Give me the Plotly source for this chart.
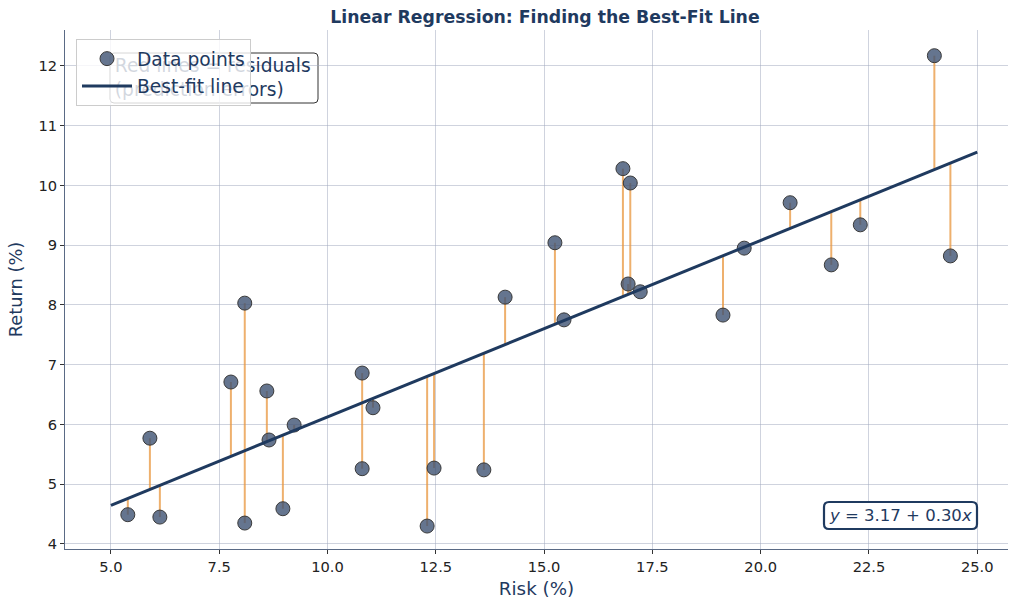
import plotly.graph_objects as go

risk = [5.39, 5.90, 6.13, 7.77, 8.09, 8.09, 8.60, 8.65, 8.97, 9.23,
        10.80, 10.80, 11.05, 12.30, 12.46, 13.61, 14.10, 15.25, 15.46, 16.82,
        16.99, 16.94, 17.22, 19.13, 19.62, 20.68, 21.63, 22.30, 24.01, 24.38]
ret = [4.49, 5.77, 4.45, 6.71, 8.03, 4.35, 6.56, 5.74, 4.59, 5.99,
       6.86, 5.26, 6.28, 4.30, 5.27, 5.24, 8.13, 9.04, 7.75, 10.28,
       10.04, 8.35, 8.22, 7.83, 8.95, 9.71, 8.67, 9.34, 12.17, 8.82]
intercept = 3.17
slope = 0.2955
line_x = [5.0, 25.0]
x_ticks = [5, 7.5, 10, 12.5, 15, 17.5, 20, 22.5, 25]
y_ticks = [4, 5, 6, 7, 8, 9, 10, 11, 12]

navy = "#1f3a5f"
font_family = "DejaVu Sans"

fig = go.Figure()

# residual lines
rx, ry = [], []
for xv, yv in zip(risk, ret):
    rx += [xv, xv, None]
    ry += [yv, intercept + slope * xv, None]
fig.add_trace(go.Scatter(x=rx, y=ry, mode="lines",
                         line=dict(color="rgba(232,150,60,0.75)", width=2),
                         showlegend=False, hoverinfo="skip"))

fig.add_trace(go.Scatter(x=risk, y=ret, mode="markers", name="Data points",
                         marker=dict(size=14, color="rgba(62,82,115,0.8)",
                                     line=dict(color="#3a3a3a", width=1))))

fig.add_trace(go.Scatter(x=line_x, y=[intercept + slope * v for v in line_x],
                         mode="lines", name="Best-fit line",
                         line=dict(color=navy, width=3)))

# residual note text (as a text trace so the legend sits above it)
fig.add_trace(go.Scatter(x=[5.09], y=[11.78], mode="text",
                         text=["Red lines = residuals<br>(prediction errors)"],
                         textposition="middle right",
                         textfont=dict(size=18.67, color=navy, family=font_family),
                         showlegend=False, hoverinfo="skip"))


def rrect(x0, y0, x1, y1, rx, ry):
    return (f"M {x0+rx},{y0} L {x1-rx},{y0} Q {x1},{y0} {x1},{y0+ry} "
            f"L {x1},{y1-ry} Q {x1},{y1} {x1-rx},{y1} L {x0+rx},{y1} "
            f"Q {x0},{y1} {x0},{y1-ry} L {x0},{y0+ry} Q {x0},{y0} {x0+rx},{y0} Z")


W, H = 943.0, 519.0
fig.add_shape(type="path", xref="paper", yref="paper", layer="between",
              path=rrect(45 / W, 446 / H, 253 / W, 496 / H, 4 / W, 4 / H),
              fillcolor="rgba(255,255,255,0.9)", line=dict(color="#333", width=1))
fig.add_shape(type="path", xref="paper", yref="paper", layer="above",
              path=rrect(759 / W, 20 / H, 912 / W, 47 / H, 5 / W, 5 / H),
              fillcolor="white", line=dict(color=navy, width=2.2))

fig.update_layout(
    width=1010, height=603,
    margin=dict(l=65, r=2, t=30, b=54),
    paper_bgcolor="white", plot_bgcolor="white",
    font=dict(family=font_family, size=14.67, color="#222"),
    title=dict(text="<b>Linear Regression: Finding the Best-Fit Line</b>",
               x=545 / 1010, xanchor="center", y=1 - 17 / 603, yanchor="middle",
               font=dict(size=17.3, color=navy)),
    showlegend=True,
    legend=dict(x=11 / W, y=1 - 9 / H, xanchor="left", yanchor="top",
                bgcolor="rgba(255,255,255,0.8)", bordercolor="#cccccc", borderwidth=1,
                font=dict(size=18.67, color=navy), tracegroupgap=0, itemwidth=50),
)

axis_common = dict(showgrid=True, gridcolor="rgba(160,168,190,0.5)", gridwidth=1,
                   showline=True, linecolor="#5a6a85", linewidth=1, zeroline=False,
                   ticks="outside", ticklen=4, tickcolor="#333", automargin=False)
fig.update_xaxes(range=[3.94, 25.71], tickvals=x_ticks,
                 ticktext=[f"{v:.1f}" for v in x_ticks],
                 title=dict(text="Risk (%)", font=dict(size=18.3, color=navy), standoff=8),
                 **axis_common)
fig.update_yaxes(range=[3.916, 12.60], tickvals=y_ticks,
                 title=dict(text="Return (%)", font=dict(size=17.8, color=navy), standoff=11),
                 **axis_common)

fig.add_annotation(xref="paper", yref="paper", x=835.5 / W, y=33.5 / H,
                   xanchor="center", yanchor="middle",
                   text="<i>y</i> = 3.17 + 0.30<i>x</i>", showarrow=False,
                   font=dict(size=16.5, color=navy))

fig.write_html("out.html", config={"displayModeBar": False},
               post_script="document.body.style.margin='0';")
